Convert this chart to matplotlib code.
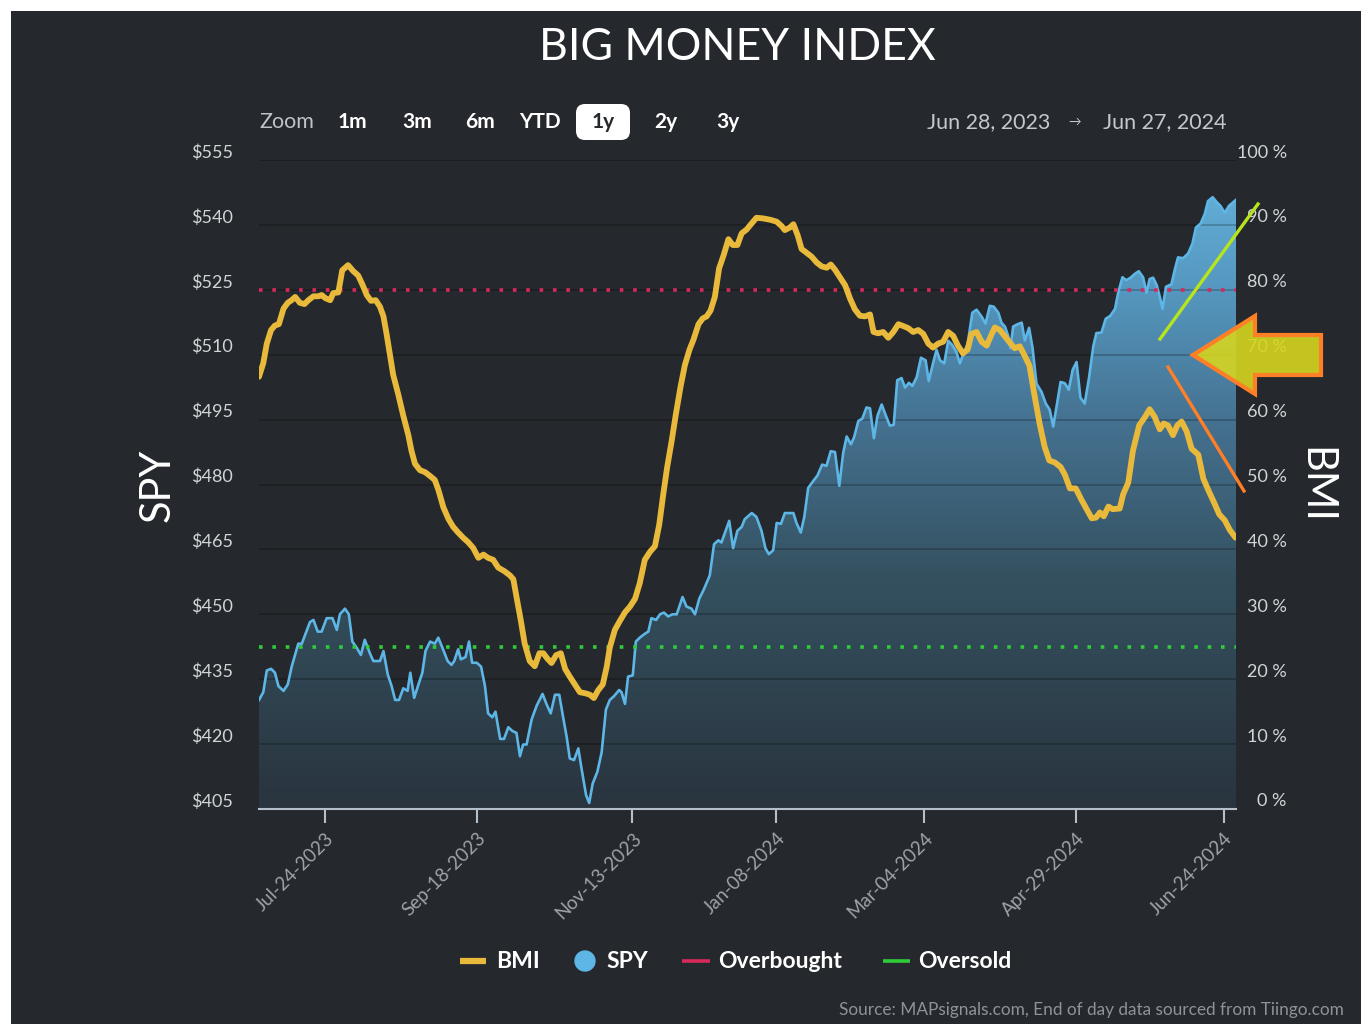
import numpy as np
import pandas as pd
import matplotlib
matplotlib.use("Agg")
from matplotlib import pyplot as plt
from matplotlib.colors import LinearSegmentedColormap
from matplotlib.patches import Rectangle, Polygon, FancyBboxPatch, Circle
from matplotlib.transforms import ScaledTranslation

plt.rcParams['font.family'] = ['Lato', 'DejaVu Sans']

# ---- values -------------------------------------------------------------------------------
# x = trading-day number counted from Jun 28, 2023 (= 0)
spy_day = [0, 1.1, 2.0, 3.1, 4.1, 5.0, 6.3, 7.4, 8.4, 10.1, 11.0, 11.8, 13.1, 14.0, 15.1, 16.1,
           17.4, 18.9, 20.0, 20.8, 22.1, 23.1, 24.0, 25.1, 26.2, 27.2, 28.5, 29.4, 31.1, 32.0,
           33.1, 34.1, 35.0, 36.0, 37.1, 38.2, 38.9, 39.9, 41.0, 42.0, 42.8, 44.0, 45.2, 46.1,
           47.1, 48.5, 49.5, 50.2, 51.2, 51.9, 53.1, 54.0, 54.8, 56.0, 57.1, 58.1, 58.9, 60.0,
           60.8, 62.0, 63.0, 64.1, 65.2, 66.2, 67.1, 67.9, 68.8, 70.1, 71.4, 72.9, 73.9, 75.0,
           76.1, 77.2, 78.2, 79.1, 79.9, 81.0, 82.1, 82.9, 84.1, 84.9, 85.8, 87.0, 88.1, 89.2,
           90.2, 91.3, 92.6, 93.2, 94.1, 94.9, 96.1, 96.9, 97.9, 99.2, 100.1, 100.9, 102.1,
           103.1, 104.1, 105.2, 106.3, 107.4, 108.9, 109.9, 111.2, 112.1, 113.2, 114.4, 115.9,
           117.0, 118.1, 118.9, 120.9, 121.9, 123.0, 124.1, 124.9, 126.7, 127.9, 129.2, 130.2,
           131.1, 132.2, 133.1, 134.2, 135.2, 136.5, 137.4, 138.2, 139.3, 140.2, 141.2, 142.5,
           143.6, 144.8, 145.9, 147.0, 148.1, 149.2, 150.2, 151.1, 152.2, 153.0, 154.1, 155.1,
           156.2, 157.1, 158.1, 159.0, 160.1, 161.1, 162.2, 163.2, 164.1, 165.2, 166.1, 167.1,
           168.0, 169.1, 170.2, 171.4, 172.2, 173.3, 174.2, 175.1, 176.2, 177.2, 178.2, 179.3,
           180.2, 181.1, 182.2, 183.4, 184.5, 185.8, 186.8, 187.9, 188.9, 190.1, 190.9, 191.8,
           192.6, 193.2, 193.9, 194.9, 196.1, 196.9, 198.0, 198.9, 199.9, 201.2, 202.3, 203.3,
           204.2, 205.1, 206.1, 207.2, 208.2, 209.2, 210.2, 211.2, 212.3, 213.4, 214.5, 215.3,
           216.6, 217.7, 218.9, 220.1, 220.9, 222.0, 223.0, 224.1, 225.2, 226.2, 227.3, 228.2,
           229.0, 229.9, 230.8, 231.6, 232.3, 233.2, 234.6, 235.5, 236.3, 237.6, 238.9, 240.0,
           240.9, 242.1, 243.2, 244.0, 245.2, 246.2, 247.2, 248.3, 249.4, 250.3, 251.2]
spy_price = [430.2, 432.0, 437.0, 437.4, 436.5, 433.4, 432.3, 433.8, 437.9, 443.2, 443.2, 445.1,
             448.2, 448.7, 446.0, 446.0, 449.1, 449.1, 446.4, 450.0, 451.3, 450.0, 443.7, 442.3,
             440.6, 444.1, 441.0, 439.2, 439.2, 441.5, 436.1, 433.4, 430.2, 430.2, 432.9, 432.3,
             436.5, 430.7, 433.8, 436.5, 441.5, 443.7, 443.2, 444.6, 442.4, 439.2, 438.3, 439.2,
             441.9, 439.6, 440.1, 443.7, 438.8, 438.8, 437.9, 433.4, 427.1, 426.2, 427.5, 421.2,
             421.2, 423.9, 423.0, 422.6, 417.2, 419.9, 419.9, 425.7, 428.9, 431.6, 429.3, 427.1,
             431.4, 431.4, 426.2, 421.7, 416.7, 416.3, 419.0, 414.5, 408.2, 406.4, 410.9, 413.6,
             418.1, 428.0, 430.2, 431.1, 432.5, 432.0, 429.3, 435.6, 435.9, 443.7, 444.6, 445.5,
             446.0, 449.1, 448.7, 450.0, 450.4, 449.5, 450.0, 450.0, 454.0, 451.8, 451.3, 450.0,
             453.6, 455.8, 459.0, 466.2, 467.1, 466.6, 471.6, 465.3, 469.3, 470.2, 472.0, 473.4,
             472.5, 469.3, 465.3, 463.9, 464.8, 471.1, 470.9, 473.4, 473.4, 473.4, 471.1, 468.9,
             472.5, 479.2, 480.8, 482.1, 484.6, 484.3, 487.7, 487.5, 479.7, 487.3, 491.1, 489.3,
             490.9, 494.7, 495.2, 497.8, 497.6, 490.7, 495.8, 498.5, 496.1, 493.6, 493.8, 504.1,
             504.6, 502.4, 503.5, 502.8, 504.8, 509.3, 508.7, 503.9, 508.0, 511.1, 508.7, 508.0,
             513.2, 512.3, 510.7, 508.0, 510.2, 512.5, 519.7, 520.4, 518.8, 517.2, 521.3, 521.1,
             519.7, 517.4, 516.5, 514.4, 511.5, 516.5, 517.0, 517.4, 513.3, 516.2, 511.5, 503.3,
             501.4, 498.7, 497.3, 493.4, 498.2, 503.7, 503.4, 501.9, 506.5, 508.3, 500.1, 498.7,
             504.6, 511.9, 515.0, 515.1, 518.3, 519.0, 520.6, 524.3, 527.9, 527.2, 527.8, 528.7,
             529.3, 527.9, 524.3, 527.5, 527.8, 526.1, 523.4, 520.6, 525.7, 526.3, 529.8, 532.5,
             532.3, 533.4, 535.7, 539.4, 540.3, 542.6, 545.5, 546.4, 545.3, 544.4, 542.8, 544.4,
             545.1, 545.8]

bmi_day = [0, 1.1, 2.0, 3.1, 4.1, 5.1, 6.3, 7.4, 8.4, 9.3, 10.5, 11.7, 12.7, 14.0, 15.3, 16.1,
           17.1, 18.3, 19.1, 20.4, 21.4, 22.9, 24.2, 25.5, 26.6, 27.7, 28.8, 30.0, 31.1, 32.0,
           32.8, 33.7, 34.5, 35.8, 37.1, 38.4, 39.2, 40.1, 41.4, 42.7, 44.0, 45.2, 46.1, 47.4,
           48.7, 49.9, 51.2, 52.5, 53.8, 55.1, 56.4, 57.7, 58.9, 60.2, 61.5, 63.2, 64.5, 65.4,
           66.2, 67.3, 68.3, 69.6, 70.9, 72.1, 73.1, 74.1, 75.2, 76.4, 77.6, 78.7, 79.9, 81.2,
           82.5, 84.1, 85.1, 86.1, 87.2, 88.4, 89.4, 90.2, 91.5, 92.8, 94.1, 95.4, 96.7, 97.9,
           99.2, 100.5, 101.8, 102.9, 103.9, 104.9, 106.1, 107.2, 108.4, 109.5, 110.7, 111.7,
           113.0, 114.1, 115.1, 116.1, 117.2, 118.3, 119.5, 120.7, 121.8, 123.0, 124.1, 125.4,
           126.2, 127.9, 129.6, 131.4, 133.1, 134.4, 135.2, 136.5, 137.4, 138.5, 139.5, 140.8,
           142.1, 143.4, 144.7, 146.0, 147.0, 148.1, 149.4, 150.7, 152.0, 153.2, 154.5, 155.8,
           157.1, 158.0, 159.2, 160.5, 161.8, 163.1, 164.4, 165.7, 166.9, 168.2, 169.5, 170.8,
           172.1, 173.3, 174.6, 175.9, 177.2, 178.5, 179.7, 181.0, 182.2, 183.2, 184.5, 185.8,
           187.1, 188.4, 189.2, 190.5, 191.8, 193.0, 194.3, 195.6, 196.9, 198.1, 199.4, 200.7,
           202.0, 203.2, 204.6, 206.1, 207.2, 208.5, 210.0, 211.5, 212.8, 214.1, 215.2, 216.2,
           217.2, 218.4, 219.5, 221.3, 222.2, 223.5, 224.7, 226.3, 227.8, 229.0, 230.3, 231.6,
           232.6, 233.7, 235.0, 236.1, 237.2, 238.5, 239.8, 241.5, 242.8, 244.1, 245.5, 246.9,
           248.3, 249.6, 251.1]
bmi_pct = [66.6, 68.7, 71.7, 73.8, 74.5, 74.7, 77.1, 78.0, 78.4, 78.9, 78.0, 77.8, 78.4, 79.0,
           79.0, 79.2, 78.7, 78.4, 79.5, 79.6, 83.0, 83.8, 82.9, 82.2, 80.8, 79.2, 78.3, 78.4,
           77.4, 75.9, 73.2, 69.9, 66.9, 63.9, 60.6, 57.6, 55.2, 53.2, 52.2, 51.9, 51.3, 50.7,
           49.2, 46.5, 44.7, 43.5, 42.6, 41.8, 41.1, 40.2, 38.7, 39.2, 38.7, 38.4, 37.2, 36.6,
           36.0, 35.4, 32.7, 29.1, 25.5, 22.8, 22.0, 24.0, 24.0, 23.2, 22.5, 23.7, 24.0, 21.6,
           20.4, 19.2, 18.0, 17.8, 17.6, 17.1, 18.3, 19.2, 21.9, 24.9, 27.6, 29.0, 30.3, 31.2,
           32.4, 34.8, 38.4, 39.6, 40.5, 43.8, 48.3, 52.5, 56.7, 60.9, 65.1, 68.4, 70.8, 72.3,
           74.7, 75.6, 75.9, 76.8, 78.9, 83.3, 85.4, 87.8, 86.9, 86.9, 88.7, 89.3, 89.9, 91.1,
           91.0, 90.8, 90.5, 89.8, 89.2, 89.6, 90.1, 88.4, 86.3, 85.7, 85.1, 84.2, 83.6, 83.4,
           83.9, 83.1, 81.9, 80.7, 78.6, 77.0, 76.0, 75.9, 76.2, 73.5, 73.3, 73.5, 72.6, 73.5,
           74.7, 74.4, 74.1, 73.5, 73.8, 73.2, 71.7, 71.1, 71.7, 72.0, 73.5, 72.9, 71.4, 70.2,
           70.8, 73.2, 73.5, 72.0, 71.4, 73.2, 74.2, 73.8, 72.8, 71.9, 71.0, 71.3, 69.8, 68.3,
           63.7, 59.4, 55.8, 53.7, 53.4, 52.7, 51.5, 49.4, 49.4, 47.6, 46.2, 44.8, 44.9, 45.7,
           45.1, 46.6, 46.2, 46.3, 48.5, 50.3, 55.2, 59.1, 60.4, 61.6, 60.4, 58.5, 59.4, 59.1,
           57.6, 59.1, 59.7, 58.2, 55.5, 54.6, 50.9, 49.1, 47.3, 45.4, 44.5, 43.0, 41.8]

overbought = 80
oversold = 25

spy_ticks = [405, 420, 435, 450, 465, 480, 495, 510, 525, 540, 555]
spy_labels = ["$405", "$420", "$435", "$450", "$465", "$480", "$495", "$510", "$525", "$540", "$555"]
bmi_ticks = [0, 10, 20, 30, 40, 50, 60, 70, 80, 90, 100]
bmi_labels = ["0 %", "10 %", "20 %", "30 %", "40 %", "50 %", "60 %", "70 %", "80 %", "90 %", "100 %"]
date_ticks = ["2023-07-24", "2023-09-18", "2023-11-13", "2024-01-08", "2024-03-04", "2024-04-29", "2024-06-24"]
date_labels = ["Jul-24-2023", "Sep-18-2023", "Nov-13-2023", "Jan-08-2024", "Mar-04-2024", "Apr-29-2024", "Jun-24-2024"]
holidays = ["2023-07-04", "2023-09-04", "2023-11-23", "2023-12-25", "2024-01-01", "2024-01-15",
            "2024-02-19", "2024-03-29", "2024-05-27", "2024-06-19"]

# trading calendar -> positions of the date ticks
days = pd.bdate_range("2023-06-28", "2024-06-27")
days = days[~days.isin(pd.to_datetime(holidays))]
tick_pos = [days.get_loc(pd.Timestamp(d)) for d in date_ticks]
x_max = len(days) - 0.8

# colours
BG = "#25282c"
SPY_C = "#5db6e6"
BMI_C = "#e9b93b"
OB_C = "#d8285c"
OS_C = "#2fcc3a"
AXIS_C = "#b4bfcc"

W, H = 1369, 1033
fig = plt.figure(figsize=(W / 100, H / 100), dpi=100, facecolor="white")
fig.patches.append(Rectangle((11 / W, 1 - 1024 / H), 1350 / W, 1013 / H, transform=fig.transFigure,
                             facecolor=BG, edgecolor="none", zorder=-5))

ax = fig.add_axes([259 / W, 1 - 809 / H, 977 / W, 649 / H])
ax.set_facecolor("none")

# SPY area with vertical gradient
poly = ax.fill_between(spy_day, spy_price, 405, color="none")
cmap = LinearSegmentedColormap.from_list("spyfill", [(0, "#29343e"), (0.35, "#34505f"), (0.6, "#457291"),
                                                     (0.8, "#5597bf"), (1.0, "#66b4dd")])
grad = np.linspace(0, 1, 256).reshape(-1, 1)
img = ax.imshow(grad, extent=[0, x_max, 405, 555], origin="lower", aspect="auto", cmap=cmap, zorder=0.3)
img.set_clip_path(poly.get_paths()[0], transform=ax.transData)
ax.plot(spy_day, spy_price, color=SPY_C, lw=1.9, zorder=3)

ax.set_xlim(0, x_max)
ax.set_ylim(405, 555)
ax.set_axisbelow(True)
ax.grid(axis="y", color="black", alpha=0.22, lw=1.3)
ax.set_yticks(spy_ticks)
ax.set_yticklabels(spy_labels)
ax.tick_params(axis="y", length=0, pad=18.5, labelsize=13, labelcolor="#d2d5d8")
for lab in ax.get_yticklabels():
    lab.set_transform(lab.get_transform() + ScaledTranslation(0, 0.09, fig.dpi_scale_trans))

ax.set_xticks(tick_pos)
ax.set_xticklabels(date_labels, rotation=45, ha="right", rotation_mode="anchor")
ax.tick_params(axis="x", length=10, width=1.5, color=AXIS_C, pad=5, labelsize=13.5, labelcolor="#9ea3a8")
for s in ["top", "left", "right"]:
    ax.spines[s].set_visible(False)
ax.spines["bottom"].set_color(AXIS_C)
ax.spines["bottom"].set_linewidth(1.5)

# BMI on the right axis
ax2 = ax.twinx()
ax2.set_ylim(0, 100)
ax2.axhline(overbought, color=OB_C, lw=2.6, ls=(0, (1, 2.7)), zorder=2)
ax2.axhline(oversold, color=OS_C, lw=2.6, ls=(0, (1, 2.7)), zorder=2)
ax2.plot(bmi_day, bmi_pct, color=BMI_C, lw=4.2, solid_joinstyle="round", solid_capstyle="round", zorder=3)
ax2.set_yticks(bmi_ticks)
ax2.set_yticklabels(bmi_labels)
ax2.tick_params(axis="y", length=0, pad=36.5, labelsize=13, labelcolor="#d2d5d8")
for lab in ax2.get_yticklabels():
    lab.set_ha("right")
    lab.set_transform(lab.get_transform() + ScaledTranslation(0, 0.09, fig.dpi_scale_trans))
for s in ax2.spines.values():
    s.set_visible(False)

# overlay in pixel units for titles, buttons, legend and hand-drawn marks
ov = fig.add_axes([0, 0, 1, 1], zorder=10)
ov.set_xlim(0, W)
ov.set_ylim(H, 0)
ov.axis("off")

ov.text(737, 48, "BIG MONEY INDEX", fontsize=32, color="white", ha="center", va="center")
ov.text(158, 485, "SPY", fontsize=30, color="white", rotation=90, ha="center", va="center")
ov.text(1315, 485, "BMI", fontsize=30, color="white", rotation=270, ha="center", va="center")

ov.text(259, 122, "Zoom", fontsize=15.5, color="#bfc3c7", ha="left", va="center")
ov.add_patch(FancyBboxPatch((576, 104), 54, 36, boxstyle="round,pad=0,rounding_size=9", fc="white", ec="none"))
for lbl, cx in [("1m", 352), ("3m", 417), ("6m", 480), ("YTD", 540), ("1y", 603), ("2y", 666), ("3y", 728)]:
    ov.text(cx, 122, lbl, fontsize=15, fontweight="bold", color=BG if lbl == "1y" else "white",
            ha="center", va="center")
ov.text(927, 122, "Jun 28, 2023", fontsize=15.5, color="#c4c8cc", ha="left", va="center")
ov.text(1075, 122, "\u2192", fontsize=9, color="#c4c8cc", ha="center", va="center")
ov.text(1103, 122, "Jun 27, 2024", fontsize=15.5, color="#c4c8cc", ha="left", va="center")

# hand-drawn annotation marks
ov.plot([1160, 1258], [339, 204], color="#b6e51d", lw=2.4)
ov.plot([1168, 1244], [367, 491], color="#ff7f27", lw=2.4)
arrow_pts = [(1193, 355), (1255, 316), (1255, 335), (1321, 335), (1321, 375), (1255, 375), (1255, 394)]
ov.add_patch(Polygon(arrow_pts, closed=True, facecolor=(0.84, 0.84, 0.12, 0.9), edgecolor="#ff7f27",
                     lw=3, joinstyle="miter"))

# legend
ov.plot([460, 486], [961, 961], color=BMI_C, lw=4.5, solid_capstyle="butt")
ov.text(496, 961, "BMI", fontsize=16.5, fontweight="bold", color="white", va="center")
ov.add_patch(Circle((585, 961), 10, color=SPY_C))
ov.text(606, 961, "SPY", fontsize=16.5, fontweight="bold", color="white", va="center")
ov.plot([682, 710], [961, 961], color=OB_C, lw=2.6, solid_capstyle="butt")
ov.text(718, 961, "Overbought", fontsize=16.5, fontweight="bold", color="white", va="center")
ov.plot([883, 910], [961, 961], color=OS_C, lw=2.6, solid_capstyle="butt")
ov.text(918, 961, "Oversold", fontsize=16.5, fontweight="bold", color="white", va="center")

ov.text(1344, 1010, "Source: MAPsignals.com, End of day data sourced from Tiingo.com", fontsize=12.4,
        color="#8e9398", ha="right", va="center")

fig.savefig("out.png", dpi=100, facecolor="white")
